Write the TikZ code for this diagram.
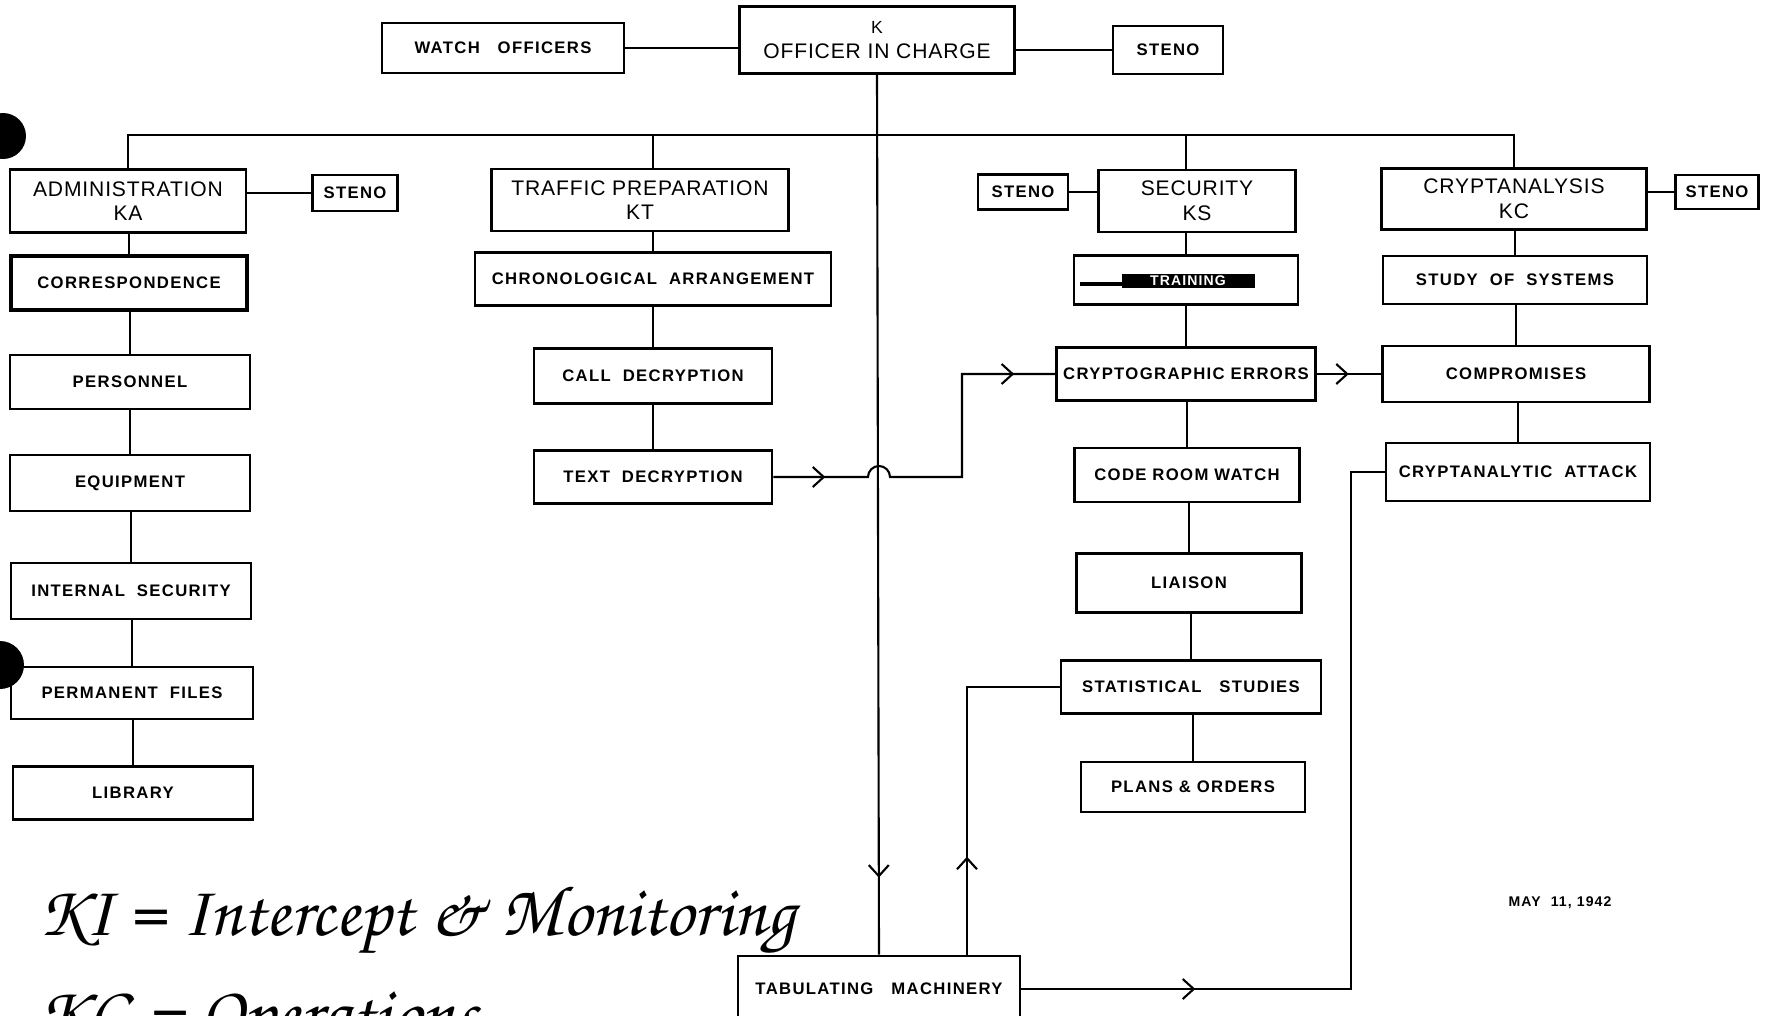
\documentclass[tikz,border=0pt]{standalone}
\usepackage{fontspec}
\setmainfont{Liberation Sans}
\newfontfamily\lettering{Liberation Sans}[LetterSpace=8]
\newfontfamily\headfont{Liberation Sans}[LetterSpace=4]
\newfontfamily\handfont{texgyrechorus-mediumitalic.otf}
\usetikzlibrary{arrows.meta, decorations.markings}

\begin{document}
\begin{tikzpicture}[x=0.02cm, y=-0.02cm,
	box/.style={draw, line width=1.5pt, inner sep=0pt, align=center,
		font=\lettering\bfseries\fontsize{9.5}{11}\selectfont},
	head/.style={box, font=\headfont\fontsize{12}{14}\selectfont},
	sz/.style 2 args={minimum width={#1*0.02cm}, minimum height={#2*0.02cm}},
	link/.style={line width=1.2pt},
	tip at/.style={postaction={decorate, decoration={markings,
		mark=at position #1 with {\arrow{Straight Barb[length=2.2mm, width=4mm, line width=1.2pt]}}}}},
	]
	\useasboundingbox (0,0) rectangle (1766,1015);
	
	% punch holes of the sheet
	\fill (3,136) circle (0.46cm);
	\fill (0,665) circle (0.48cm);
	
	% --- TOP ROW ---
	\node[head, sz={275}{67}] (K) at (877,40) {{\fontsize{10}{12}\selectfont K}\\OFFICER IN CHARGE};
	\node[box, sz={242}{50}] (watch) at (503,48) {WATCH\ \ \ OFFICERS};
	\node[box, sz={110}{48}] (stenoK) at (1168,50) {STENO};
	
	% --- SECTIONS ---
	\node[head, sz={236}{63}] (admin) at (128,201) {ADMINISTRATION\\KA};
	\node[box, sz={85}{36}] (stenoA) at (355,193) {STENO};
	\node[head, sz={297}{62}] (traffic) at (640,200) {TRAFFIC PREPARATION\\KT};
	\node[box, sz={90}{35}] (stenoS) at (1023,192) {STENO};
	\node[head, sz={197}{62}] (security) at (1197,201) {SECURITY\\KS};
	\node[head, sz={265}{61}] (crypt) at (1514,199) {CRYPTANALYSIS\\KC};
	\node[box, sz={83}{34}] (stenoC) at (1717,192) {STENO};
	
	% administration column
	\node[box, sz={236}{54}, line width=2.2pt] (corr) at (129,283) {CORRESPONDENCE};
	\node[box, sz={240}{54}] (pers) at (130,382) {PERSONNEL};
	\node[box, sz={240}{56}] (equip) at (130,483) {EQUIPMENT};
	\node[box, sz={240}{56}] (intsec) at (131,591) {INTERNAL\ \ SECURITY};
	\node[box, sz={242}{52}] (files) at (132,693) {PERMANENT\ \ FILES};
	\node[box, sz={240}{53}] (library) at (133,793) {LIBRARY};
	
	% traffic column
	\node[box, sz={356}{53}] (chrono) at (653,279) {CHRONOLOGICAL\ \ ARRANGEMENT};
	\node[box, sz={238}{55}] (call) at (653,376) {CALL\ \ DECRYPTION};
	\node[box, sz={238}{53}] (textdec) at (653,477) {TEXT\ \ DECRYPTION};
	
	% security column
	\node[box, sz={224}{49}] (train) at (1186,280) {};
	\fill (1122,274) rectangle (1255,288);
	\draw[line width=2.5pt] (1080,284) -- (1122,284);
	\node[white, font=\lettering\bfseries\fontsize{8}{9}\selectfont] at (1188,281) {TRAINING};
	\node[box, sz={259}{53}] (crerr) at (1186,374) {CRYPTOGRAPHIC ERRORS};
	\node[box, sz={225}{54}] (coderoom) at (1187,475) {CODE ROOM WATCH};
	\node[box, sz={225}{59}] (liaison) at (1189,583) {LIAISON};
	\node[box, sz={260}{53}] (stat) at (1191,687) {STATISTICAL\ \ \ STUDIES};
	\node[box, sz={224}{50}] (plans) at (1193,787) {PLANS \& ORDERS};
	
	% cryptanalysis column
	\node[box, sz={264}{48}] (study) at (1515,280) {STUDY\ \ OF\ \ SYSTEMS};
	\node[box, sz={267}{56}] (compr) at (1516,374) {COMPROMISES};
	\node[box, sz={264}{58}] (attack) at (1518,472) {CRYPTANALYTIC\ \ ATTACK};
	
	% bottom
	\node[box, sz={282}{66}] (tab) at (879,989) {TABULATING\ \ \ MACHINERY};
	\node[font=\lettering\bfseries\fontsize{8}{9}\selectfont] (date) at (1560,903) {MAY\ \ 11, 1942};
	
	% handwritten notes
	\node[anchor=base west, font=\handfont\fontsize{41}{45}\selectfont] (noteI) at (32,935) {KI = Intercept \& Monitoring};
	\node[anchor=base west, font=\handfont\fontsize{41}{45}\selectfont] (noteG) at (32,1036) {KG = Operations};
	
	% --- CONNECTORS ---
	\coordinate (bus) at (879,135);
	\draw[link] (watch.east) -- (watch.east -| K.west);
	\draw[link] (stenoK.west) -- (stenoK.west -| K.east);
	\draw[link] (admin.north) |- (bus) -| (crypt.north);
	\draw[link] (traffic.north -| chrono.north) -- (chrono.north |- bus);
	\draw[link] (security.north -| train.north) -- (train.north |- bus);
	\draw[link] (stenoA.west) -- (stenoA.west -| admin.east);
	\draw[link] (stenoS.east) -- (stenoS.east -| security.west);
	\draw[link] (stenoC.west) -- (stenoC.west -| crypt.east);
	
	\foreach \a/\b in {admin/corr, corr/pers, pers/equip, equip/intsec, intsec/files, files/library,
		traffic/chrono, chrono/call, call/textdec,
		security/train, train/crerr, crerr/coderoom, coderoom/liaison, liaison/stat, stat/plans,
		crypt/study, study/compr, compr/attack}
	\draw[link] (\b.north) -- (\b.north |- \a.south);
	
	% main line down to the machines
	\draw[link, tip at=16.06cm] (K.south) -- (tab.north);
	
	% text decryption jumps over the main line
	\coordinate (hump) at (868,477);
	\coordinate (jog) at (962,477);
	\draw[link, tip at=1.04cm, tip at=-0.82cm] (textdec.east) -- (hump)
		arc[start angle=180, end angle=0, radius=0.22cm] -- (jog) |- (crerr.west);
	\draw[link, tip at=0.64cm] (crerr.east) -- (crerr.east -| compr.west);
	
	% returns from the machines
	\coordinate (tabturn) at (1351,989);
	\draw[link, tip at=3.48cm] (tab.east) -- (tabturn) |- (attack.west);
	\draw[link, tip at=1.96cm] ([xshift=1.76cm]tab.north) |- (stat.west);
	
\end{tikzpicture}
\end{document}
